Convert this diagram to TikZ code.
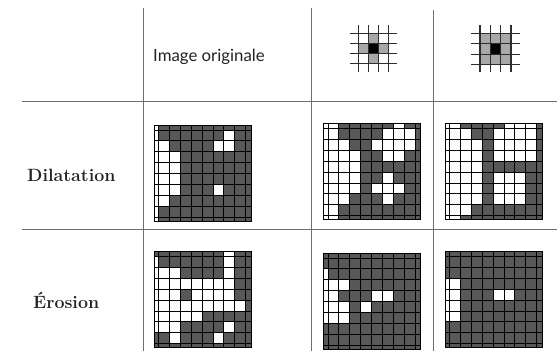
\documentclass[tikz,border=0pt]{standalone}
\usepackage{fontspec}
\newfontfamily\latofont{Lato}
\definecolor{cellgray}{RGB}{88,88,88}
\definecolor{segray}{RGB}{168,168,168}
\definecolor{rulegray}{RGB}{110,110,110}
\definecolor{textgray}{RGB}{35,35,35}
\definecolor{selinegray}{RGB}{45,45,45}
\newcommand\morphgrid[3]{%
  \begin{scope}[shift={(#1,#2)}]
    \begin{scope}
      \clip (0,0) rectangle (97,96);
      \fill[cellgray] (0,0) rectangle (97,96);
      \foreach \c/\r in {#3}
        \fill[white] ({4.5+(\c-1)*10.9},{5+(\r-1)*10.9}) rectangle ++(10.9,10.9);
      \foreach \k in {0,...,8} {
        \draw[gridline] ({4.5+\k*10.9},-1) -- ++(0,98);
        \draw[gridline] (-1,{5+\k*10.9}) -- ++(99,0);
      }
    \end{scope}
    \draw[gridline] (0,0) rectangle (97,96);
  \end{scope}}
\begin{document}
\begin{tikzpicture}[x=1pt,y=-1pt,
  rule/.style={draw=rulegray,line width=1.4pt},
  gridline/.style={draw=black,line width=0.9pt},
  seline/.style={draw=selinegray,line width=1.2pt},
  rowlabel/.style={anchor=base west,inner sep=0pt,text=textgray,font=\bfseries\fontsize{17.8}{21}\selectfont},
  collabel/.style={anchor=base west,inner sep=0pt,text=textgray,font=\latofont\fontsize{16.8}{20}\selectfont}]
\useasboundingbox (0,0) rectangle (557,351);

% table rules
\draw[rule] (143.3,8) -- (143.3,351);
\draw[rule] (311.7,8) -- (311.7,351);
\draw[rule] (433.3,10) -- (433.3,351);
\draw[rule] (22,101.5) -- (557,101.5);
\draw[rule] (22,229.3) -- (557,229.3);

% labels
\node[collabel] (orig) at (153,61.5) {Image originale};
\node[rowlabel] (dil) at (27,181) {Dilatation};
\node[rowlabel] (ero) at (33,308) {Érosion};

% structuring element 1 (cross)
\fill[segray] (358.5,43.5) rectangle (388.5,53.5);
\fill[segray] (368.5,33.5) rectangle (378.5,63.5);
\fill[black] (368.5,43.5) rectangle (378.5,53.5);
\foreach \k in {0,...,3} {
  \draw[seline] ({358.5+\k*10},25) -- ({358.5+\k*10},72);
  \draw[seline] (350,{33.5+\k*10}) -- (397,{33.5+\k*10});
}
% structuring element 2 (square)
\fill[segray] (480,33.5) rectangle (510.9,64.4);
\fill[black] (490.3,43.8) rectangle (500.6,54.1);
\foreach \k in {0,...,3} {
  \draw[seline] ({480+\k*10.3},25) -- ({480+\k*10.3},72);
  \draw[seline] (471,{33.5+\k*10.3}) -- (520,{33.5+\k*10.3});
}

% dilation row
\morphgrid{154}{125}{0/0,0/1,0/2,0/3,0/4,0/5,0/6,0/7,0/8,0/9,7/1,1/2,6/2,7/2,1/3,2/3,1/4,2/4,1/5,2/5,1/6,2/6,6/6,1/7}
\morphgrid{323.5}{123.5}{0/0,1/0,7/0,
  0/1,1/1,6/1,7/1,8/1,
  0/2,1/2,2/2,5/2,6/2,7/2,8/2,
  0/3,1/3,2/3,3/3,6/3,7/3,
  0/4,1/4,2/4,3/4,
  0/5,1/5,2/5,3/5,6/5,
  0/6,1/6,2/6,3/6,5/6,6/6,7/6,
  0/7,1/7,2/7,6/7,
  0/8,1/8,0/9,1/9}
\morphgrid{445}{123.5}{0/0,1/0,6/0,7/0,8/0,
  0/1,1/1,2/1,5/1,6/1,7/1,8/1,
  0/2,1/2,2/2,3/2,5/2,6/2,7/2,8/2,
  0/3,1/3,2/3,3/3,5/3,6/3,7/3,8/3,
  0/4,1/4,2/4,3/4,
  0/5,1/5,2/5,3/5,5/5,6/5,7/5,
  0/6,1/6,2/6,3/6,5/6,6/6,7/6,
  0/7,1/7,2/7,3/7,5/7,6/7,7/7,
  0/8,1/8,2/8,0/9,1/9}

% erosion row
\morphgrid{154}{251.5}{7/0,
  0/1,7/1,
  0/2,1/2,2/2,7/2,
  0/3,1/3,2/3,3/3,4/3,5/3,6/3,7/3,
  0/4,1/4,2/4,4/4,5/4,6/4,7/4,
  0/5,1/5,2/5,3/5,4/5,5/5,6/5,7/5,8/5,
  0/6,1/6,2/6,3/6,4/6,
  0/7,1/7,2/7,7/7,
  2/8,6/8}
\morphgrid{323.5}{253}{0/2,
  0/3,1/3,2/3,
  0/4,1/4,5/4,6/4,
  0/5,1/5,2/5,4/5,
  0/6,1/6,2/6}
\morphgrid{445}{251.5}{0/3,1/3,0/4,1/4,5/4,6/4,0/5,1/5,0/6,1/6}
\end{tikzpicture}
\end{document}
